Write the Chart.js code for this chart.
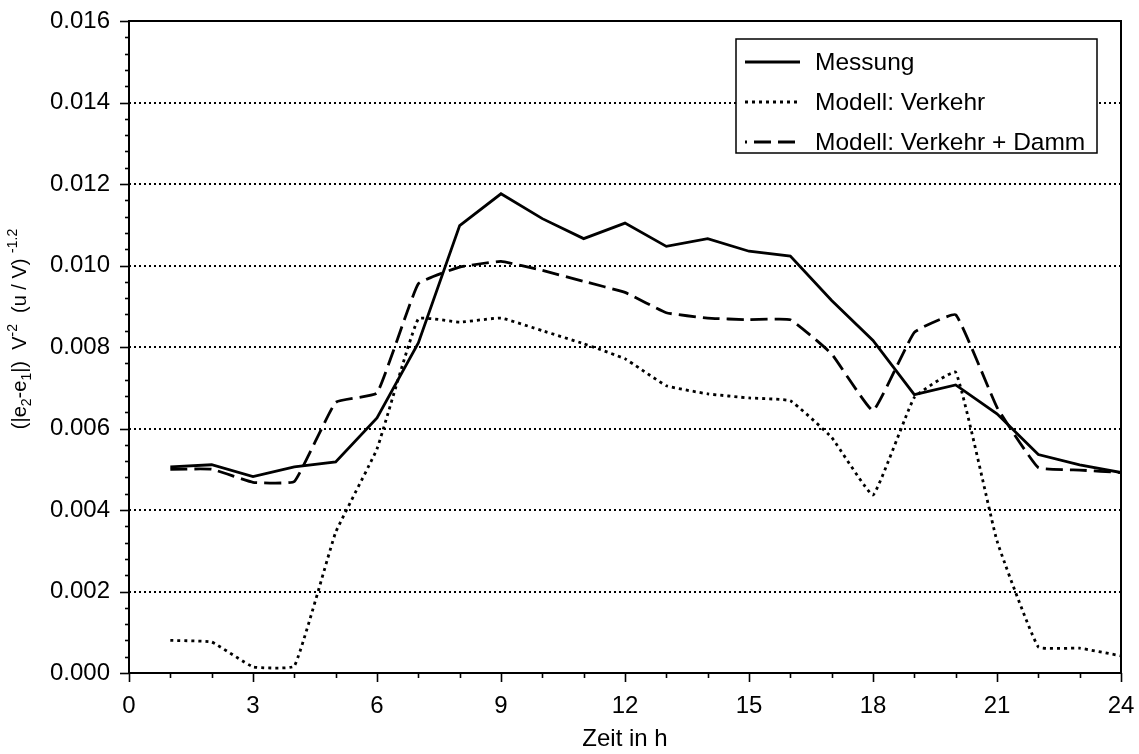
<!DOCTYPE html>
<html lang="de">
<head>
<meta charset="UTF-8">
<title>Messung und Modell</title>
<script src="https://cdn.jsdelivr.net/npm/chart.js"></script>
<style>
    html, body { margin: 0; padding: 0; background: #fff; }
    #wrap { width: 1139px; height: 754px; }
</style>
</head>
<body>
<div id="wrap"><canvas id="grafik" width="1139" height="754"></canvas></div>

<script>
// Stunden des Tages
const stunden = [1, 2, 3, 4, 5, 6, 7, 8, 9, 10, 11, 12, 13, 14, 15, 16, 17, 18, 19, 20, 21, 22, 23, 24];

// Messwerte
const messung = [0.00506, 0.00511, 0.00482, 0.00506, 0.00518, 0.00626, 0.00810, 0.01098, 0.01176, 0.01115,
                 0.01066, 0.01104, 0.01047, 0.01066, 0.01035, 0.01023, 0.00914, 0.00816, 0.00683, 0.00707,
                 0.00636, 0.00536, 0.00511, 0.00492];

// Modell nur mit Verkehr
const modellVerkehr = [0.00080, 0.00076, 0.00015, 0.00017, 0.00345, 0.00550, 0.00869, 0.00861, 0.00871, 0.00840,
                       0.00808, 0.00771, 0.00705, 0.00685, 0.00675, 0.00668, 0.00578, 0.00437, 0.00676, 0.00738,
                       0.00324, 0.00064, 0.00061, 0.00042];

// Modell mit Verkehr und Damm
const modellDamm = [0.00500, 0.00500, 0.00468, 0.00470, 0.00664, 0.00687, 0.00955, 0.00996, 0.01010, 0.00988,
                    0.00961, 0.00934, 0.00884, 0.00871, 0.00867, 0.00867, 0.00783, 0.00644, 0.00836, 0.00879,
                    0.00652, 0.00504, 0.00498, 0.00492];

const xTicks = [0, 3, 6, 9, 12, 15, 18, 21, 24];
const yTicks = [0, 0.002, 0.004, 0.006, 0.008, 0.010, 0.012, 0.014, 0.016];

const schrift = '"Liberation Sans", Arial, Helvetica, sans-serif';

function punkte(werte) {
    return stunden.map((h, i) => ({ x: h, y: werte[i] }));
}

// Rahmen, Teilstriche, Legende und y-Titel werden selbst gezeichnet
const extras = {
    id: 'extras',
    afterDraw(chart) {
        const ctx = chart.ctx;
        const a = chart.chartArea;
        const xs = chart.scales.x;
        const ys = chart.scales.y;
        ctx.save();

        // Rahmen
        ctx.strokeStyle = '#000';
        ctx.lineWidth = 2;
        ctx.setLineDash([]);
        ctx.strokeRect(a.left, a.top, a.right - a.left, a.bottom - a.top);

        // Teilstriche y
        ctx.lineWidth = 1.6;
        for (let i = 0; i <= 40; i++) {
            const v = i * 0.0004;
            const py = Math.round(ys.getPixelForValue(v)) + 0.5;
            const len = (i % 5 === 0) ? 9 : 4;
            ctx.beginPath();
            ctx.moveTo(a.left - len, py);
            ctx.lineTo(a.left, py);
            ctx.stroke();
        }
        // Teilstriche x
        for (let h = 0; h <= 24; h++) {
            const px = Math.round(xs.getPixelForValue(h)) + 0.5;
            const len = (h % 3 === 0) ? 9 : 5;
            ctx.beginPath();
            ctx.moveTo(px, a.bottom);
            ctx.lineTo(px, a.bottom + len);
            ctx.stroke();
        }

        // Legende
        const lx = 736, ly = 39, lw = 361, lh = 114;
        ctx.fillStyle = '#fff';
        ctx.fillRect(lx, ly, lw, lh);
        ctx.lineWidth = 1.5;
        ctx.strokeStyle = '#000';
        ctx.strokeRect(lx, ly, lw, lh);
        ctx.font = '24.5px ' + schrift;
        ctx.textBaseline = 'middle';
        ctx.textAlign = 'left';
        chart.data.datasets.forEach((ds, i) => {
            const y = 62 + i * 40;
            ctx.beginPath();
            ctx.lineWidth = ds.borderWidth;
            ctx.setLineDash(ds.borderDash || []);
            ctx.lineDashOffset = (i === 2) ? 15 : 0;
            ctx.moveTo(745, y);
            ctx.lineTo(800, y);
            ctx.stroke();
            ctx.setLineDash([]);
            ctx.lineDashOffset = 0;
            ctx.fillStyle = '#000';
            ctx.fillText(ds.label, 815, y + 1);
        });

        // y-Titel mit Indizes und Exponenten
        const teile = [
            { t: '(|e', s: 0 }, { t: '2', s: 1 }, { t: '-e', s: 0 }, { t: '1', s: 1 },
            { t: '|)  V', s: 0 }, { t: '-2', s: -1 }, { t: '  (u / V) ', s: 0 }, { t: '-1.2', s: -1 }
        ];
        const gross = '20px ' + schrift, klein = '14px ' + schrift;
        let breite = 0;
        teile.forEach(p => {
            ctx.font = p.s ? klein : gross;
            breite += ctx.measureText(p.t).width;
        });
        ctx.translate(26, 329);
        ctx.rotate(-Math.PI / 2);
        ctx.textBaseline = 'alphabetic';
        ctx.fillStyle = '#000';
        let x = -breite / 2;
        teile.forEach(p => {
            ctx.font = p.s ? klein : gross;
            const dy = p.s === 1 ? 5 : (p.s === -1 ? -9 : 0);
            ctx.fillText(p.t, x, dy);
            x += ctx.measureText(p.t).width;
        });
        ctx.restore();
    }
};

new Chart(document.getElementById('grafik'), {
    type: 'line',
    data: {
        datasets: [
            {
                label: 'Messung',
                data: punkte(messung),
                borderColor: '#000',
                borderWidth: 2.8,
                tension: 0,
                pointRadius: 0
            },
            {
                label: 'Modell: Verkehr',
                data: punkte(modellVerkehr),
                borderColor: '#000',
                borderWidth: 2.8,
                borderDash: [3, 4],
                tension: 0.1,
                pointRadius: 0
            },
            {
                label: 'Modell: Verkehr + Damm',
                data: punkte(modellDamm),
                borderColor: '#000',
                borderWidth: 2.8,
                borderDash: [17, 7],
                tension: 0.1,
                pointRadius: 0
            }
        ]
    },
    options: {
        responsive: false,
        animation: false,
        layout: { padding: { top: 21, right: 18, left: 0, bottom: 0 } },
        plugins: {
            legend: { display: false },
            tooltip: { enabled: false }
        },
        scales: {
            x: {
                type: 'linear',
                min: 0,
                max: 24,
                afterFit(scale) {
                    scale.height = 81;
                    scale.paddingLeft = 0;
                    scale.paddingRight = 0;
                },
                afterBuildTicks(scale) { scale.ticks = xTicks.map(v => ({ value: v })); },
                ticks: {
                    color: '#000',
                    font: { family: schrift, size: 24 },
                    padding: 19,
                    maxRotation: 0
                },
                grid: { display: false, drawTicks: false },
                border: { display: false },
                title: {
                    display: true,
                    text: 'Zeit in h',
                    color: '#000',
                    font: { family: schrift, size: 24 },
                    padding: { top: 0, bottom: 0 }
                }
            },
            y: {
                min: 0,
                max: 0.016,
                afterFit(scale) {
                    scale.width = 129;
                    scale.paddingTop = 0;
                    scale.paddingBottom = 0;
                },
                afterBuildTicks(scale) { scale.ticks = yTicks.map(v => ({ value: v })); },
                ticks: {
                    color: '#000',
                    font: { family: schrift, size: 24 },
                    padding: 19,
                    callback: v => v.toFixed(3)
                },
                grid: {
                    drawTicks: false,
                    lineWidth: 2,
                    color: c => (c.tick && (c.tick.value > 0.0001 && c.tick.value < 0.0159)) ? '#000' : 'rgba(0,0,0,0)'
                },
                border: { display: false, dash: [2, 3] }
            }
        }
    },
    plugins: [extras]
});
</script>
</body>
</html>
